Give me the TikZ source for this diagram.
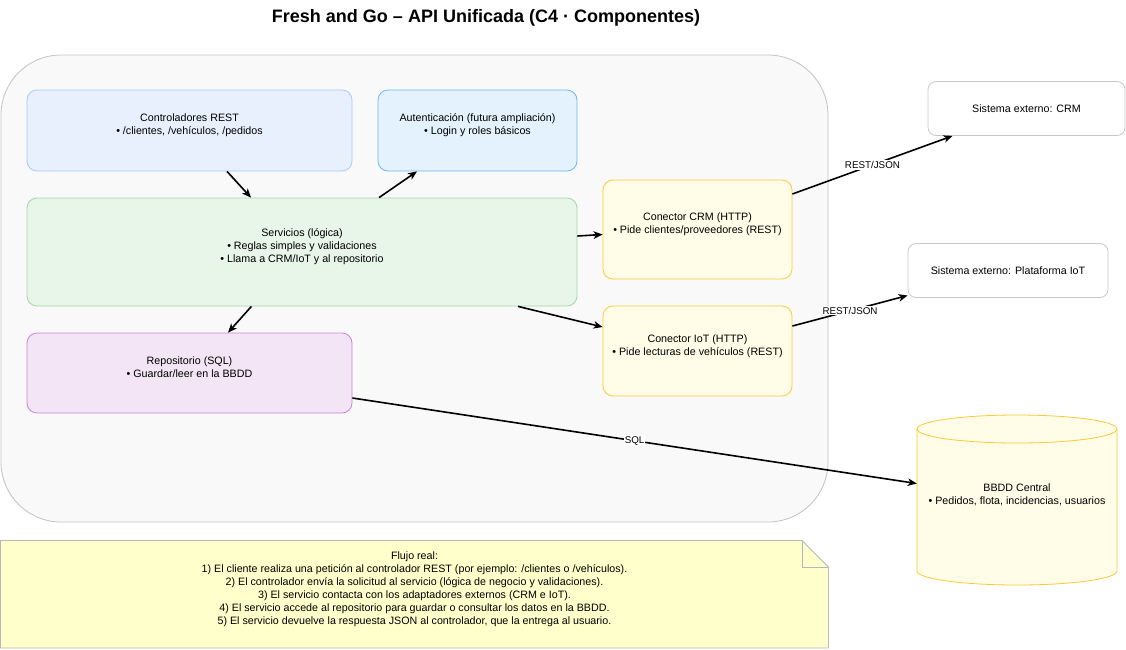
\documentclass[tikz,border=0pt]{standalone}
\usepackage{fontspec}
\setmainfont{Liberation Sans}
\usetikzlibrary{arrows.meta,calc}
\definecolor{ctrlfill}{HTML}{E8F0FD}
\definecolor{ctrlline}{HTML}{A6CBF5}
\definecolor{authfill}{HTML}{E3F2FD}
\definecolor{authline}{HTML}{6DB6F4}
\definecolor{servfill}{HTML}{E8F5E9}
\definecolor{servline}{HTML}{A3D6A5}
\definecolor{repofill}{HTML}{F3E5F5}
\definecolor{repoline}{HTML}{C883D8}
\definecolor{connfill}{HTML}{FFFDE7}
\definecolor{connline}{HTML}{FCC834}
\definecolor{notefill}{HTML}{FFFFCC}
\definecolor{noteline}{HTML}{B8B8B8}
\definecolor{contfill}{HTML}{F9F9F9}
\definecolor{contline}{HTML}{C2C2C2}
\definecolor{extline}{HTML}{C8C8C8}
\newcommand{\lastln}{\rule{0pt}{9.1pt}}
\begin{document}
\begin{tikzpicture}[x=1pt,y=-1pt,
  txt/.style={align=center, font=\fontsize{10.7}{13}\selectfont, inner sep=0pt},
  box/.style={txt, draw, rounded corners=10pt, line width=0.8pt},
  extbox/.style={box, draw=extline, fill=white, rounded corners=8pt},
  conn/.style={line width=1.6pt, -{Stealth[length=9pt,width=7.5pt,inset=2.5pt]}},
  lab/.style={fill=white, inner sep=1pt, font=\fontsize{9.8}{11}\selectfont}]
\useasboundingbox (0,0) rectangle (1126,649);

% title
\node[font=\fontsize{18}{21}\selectfont\bfseries] (title) at (486,18) {Fresh and Go – API Unificada (C4 · Componentes)};

% container
\node[draw=contline, fill=contfill, rounded corners=60pt, line width=0.8pt,
      minimum width=827pt, minimum height=467pt] (api) at (414.5,288.5) {};

% components
\node[box, draw=ctrlline, fill=ctrlfill, minimum width=325pt, minimum height=81pt] (ctrl) at (189.5,130.5)
  {Controladores REST\strut\\• /clientes, /vehículos, /pedidos\strut\\\lastln};
\node[box, draw=authline, fill=authfill, minimum width=199pt, minimum height=81pt] (auth) at (477.5,130.5)
  {Autenticación (futura ampliación)\strut\\• Login y roles básicos\strut\\\lastln};
\node[box, draw=servline, fill=servfill, minimum width=550pt, minimum height=108pt] (serv) at (302,252)
  {Servicios (lógica)\strut\\• Reglas simples y validaciones\strut\\• Llama a CRM/IoT y al repositorio\strut\\\lastln};
\node[box, draw=repoline, fill=repofill, minimum width=325pt, minimum height=80pt] (repo) at (189.5,373)
  {Repositorio (SQL)\strut\\• Guardar/leer en la BBDD\strut\\\lastln};
\node[box, draw=connline, fill=connfill, minimum width=189pt, minimum height=99pt] (crm) at (697.5,229.5)
  {Conector CRM (HTTP)\strut\\• Pide clientes/proveedores (REST)\strut\\\lastln};
\node[box, draw=connline, fill=connfill, minimum width=189pt, minimum height=90pt] (iot) at (697.5,351)
  {Conector IoT (HTTP)\strut\\• Pide lecturas de vehículos (REST)\strut\\\lastln};

% external systems
\node[extbox, minimum width=197pt, minimum height=54pt] (excrm) at (1026.5,108.5) {Sistema externo: CRM};
\node[extbox, minimum width=200pt, minimum height=54pt] (exiot) at (1008,270.5) {Sistema externo: Plataforma IoT};

% database cylinder
\path[fill=connfill, draw=connline, line width=0.8pt]
  (917,429) -- (917,571) arc[start angle=180, end angle=0, x radius=100, y radius=14]
  -- (1117,429) arc[start angle=0, end angle=-180, x radius=100, y radius=14] -- cycle;
\draw[connline, line width=0.8pt] (917,429) arc[start angle=180, end angle=0, x radius=100, y radius=14];
\node[txt, minimum width=200pt, minimum height=170pt] (db) at (1017,500)
  {BBDD Central\strut\\• Pedidos, flota, incidencias, usuarios\strut\\\lastln};

% note
\path[fill=notefill, draw=noteline, line width=0.8pt]
  (0.5,540.5) -- (802,540.5) -- (828.5,567) -- (828.5,648) -- (0.5,648) -- cycle;
\draw[noteline, line width=0.8pt] (802,540.5) -- (802,567) -- (828.5,567);
\node[txt] (note) at (414.5,594)
  {Flujo real:\strut\\
   1) El cliente realiza una petición al controlador REST (por ejemplo: /clientes o /vehículos).\strut\\
   2) El controlador envía la solicitud al servicio (lógica de negocio y validaciones).\strut\\
   3) El servicio contacta con los adaptadores externos (CRM e IoT).\strut\\
   4) El servicio accede al repositorio para guardar o consultar los datos en la BBDD.\strut\\
   5) El servicio devuelve la respuesta JSON al controlador, que la entrega al usuario.\strut\\\lastln};

% connectors
\draw[conn] ([xshift=37.5]ctrl.south) -- ([xshift=-51]serv.north);
\draw[conn] ([xshift=77]serv.north) -- ([xshift=-60.5]auth.south);
\draw[conn] ([yshift=16]serv.east) -- ([yshift=-5]crm.west);
\draw[conn] ([xshift=-50.6]serv.south) -- ([xshift=38.5]repo.north);
\draw[conn] ([xshift=216]serv.south) -- ([yshift=24]iot.west);
\draw[conn] ([yshift=35.5]crm.east) -- node[lab] {REST/JSON} ([xshift=-74]excrm.south);
\draw[conn] ([yshift=25]iot.east) -- node[lab] {REST/JSON} ([yshift=-25]exiot.west);
\draw[conn] ([yshift=-25]repo.east) -- node[lab] {SQL} ([yshift=16.5]db.west);
\end{tikzpicture}
\end{document}
